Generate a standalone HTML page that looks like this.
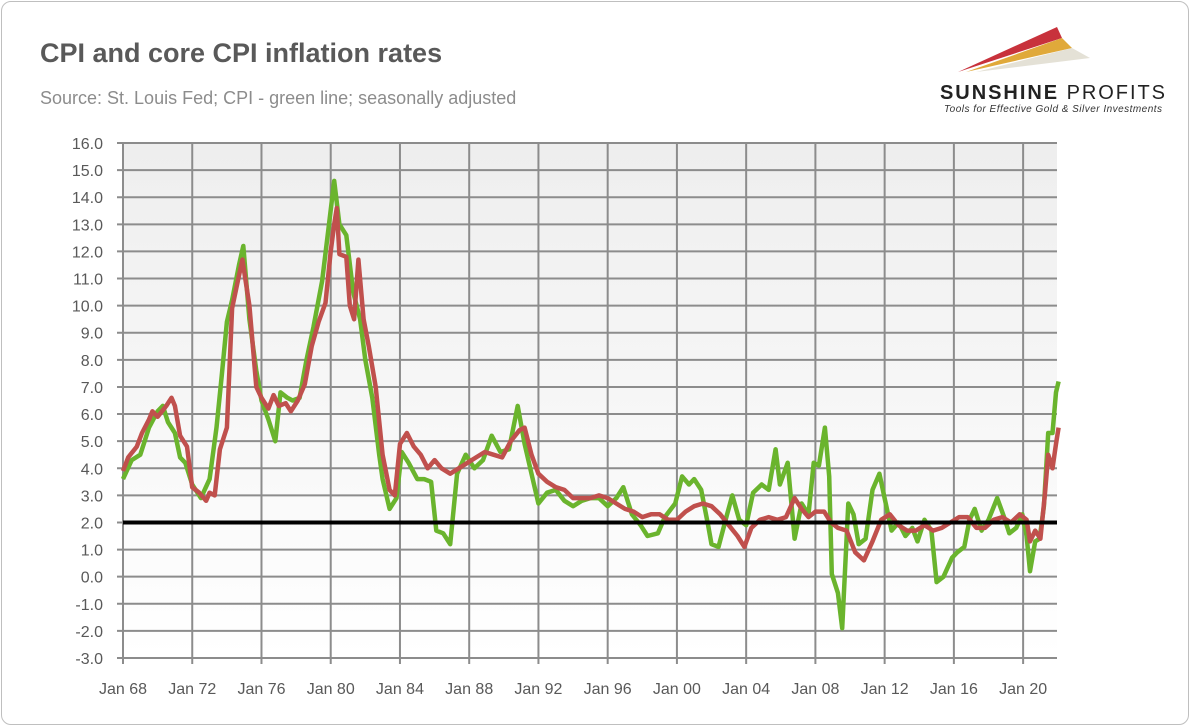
<!DOCTYPE html>
<html><head><meta charset="utf-8"><style>
body{margin:0;background:#fff;font-family:"Liberation Sans",sans-serif;}
#card{position:absolute;left:1px;top:1px;width:1186px;height:722px;border:1px solid #bfbfbf;border-radius:10px;}
</style></head><body>
<div id="card"></div>
<svg id="chart" width="1190" height="726" style="position:absolute;left:0;top:0">
<defs><linearGradient id="bg" x1="0" y1="0" x2="0" y2="1"><stop offset="0" stop-color="#eeeeee"/><stop offset="1" stop-color="#ffffff"/></linearGradient></defs>
<text x="40" y="62" font-size="27" font-weight="bold" fill="#595959">CPI and core CPI inflation rates</text>
<text x="40" y="104" font-size="18" fill="#8c8c8c">Source: St. Louis Fed; CPI - green line; seasonally adjusted</text>
<g>
<polygon points="958,72 1057,27 1062,38" fill="#c8323c"/>
<polygon points="966,72 1062,38 1072,48" fill="#e0a93a"/>
<polygon points="976,72 1072,48 1090,58" fill="#d8d4c4" opacity="0.7"/>
<text x="940" y="99" font-size="20" font-weight="bold" fill="#222" textLength="225">SUNSHINE <tspan font-weight="normal">PROFITS</tspan></text>
<text x="944" y="112" font-size="10" font-style="italic" fill="#333" textLength="218">Tools for Effective Gold &amp; Silver Investments</text>
</g>
<g id="plot"></g>
</svg>
<script>
const cpiYears=[1968.0,1968.5,1969.0,1969.5,1970.0,1970.3,1970.6,1971.0,1971.3,1971.6,1972.0,1972.5,1973.0,1973.4,1973.7,1974.0,1974.3,1974.7,1974.95,1975.3,1975.7,1976.0,1976.4,1976.8,1977.1,1977.5,1977.8,1978.2,1978.6,1979.0,1979.5,1979.9,1980.2,1980.5,1980.9,1981.3,1981.7,1982.0,1982.4,1982.8,1983.0,1983.4,1983.8,1984.1,1984.5,1985.0,1985.4,1985.8,1986.1,1986.5,1986.9,1987.3,1987.8,1988.3,1988.8,1989.3,1989.8,1990.3,1990.8,1991.2,1991.6,1992.0,1992.5,1993.0,1993.5,1994.0,1994.5,1995.0,1995.5,1996.0,1996.5,1996.9,1997.4,1997.9,1998.3,1998.9,1999.3,1999.9,2000.3,2000.7,2001.0,2001.4,2001.8,2002.0,2002.4,2002.9,2003.2,2003.6,2004.0,2004.4,2004.9,2005.3,2005.7,2005.95,2006.4,2006.8,2007.2,2007.6,2007.9,2008.2,2008.55,2008.8,2008.95,2009.3,2009.55,2009.9,2010.2,2010.5,2010.9,2011.3,2011.7,2012.0,2012.4,2012.8,2013.2,2013.6,2013.9,2014.3,2014.7,2015.0,2015.4,2015.9,2016.2,2016.6,2016.9,2017.2,2017.6,2018.0,2018.5,2018.9,2019.2,2019.6,2019.95,2020.2,2020.4,2020.7,2020.95,2021.2,2021.35,2021.45,2021.7,2021.9,2022.05];
const cpiValues=[3.6,4.3,4.5,5.5,6.1,6.3,5.7,5.3,4.4,4.2,3.4,2.9,3.6,5.5,7.4,9.4,10.2,11.5,12.2,9.5,7.6,6.5,5.8,5.0,6.8,6.6,6.5,6.6,8.0,9.2,10.9,13.0,14.6,13.0,12.6,10.5,9.5,8.0,6.6,4.5,3.6,2.5,2.9,4.6,4.2,3.6,3.6,3.5,1.7,1.6,1.2,3.8,4.5,4.0,4.3,5.2,4.6,4.7,6.3,4.9,3.8,2.7,3.1,3.2,2.8,2.6,2.8,2.9,2.9,2.6,2.9,3.3,2.3,1.9,1.5,1.6,2.2,2.7,3.7,3.4,3.6,3.2,1.9,1.2,1.1,2.3,3.0,2.1,1.9,3.1,3.4,3.2,4.7,3.4,4.2,1.4,2.7,2.3,4.2,4.1,5.5,3.7,0.1,-0.6,-1.9,2.7,2.3,1.2,1.4,3.2,3.8,2.9,1.7,2.0,1.5,1.8,1.3,2.1,1.7,-0.2,0.0,0.7,0.9,1.1,2.1,2.5,1.7,2.1,2.9,2.2,1.6,1.8,2.3,1.5,0.2,1.3,1.4,2.6,4.2,5.3,5.3,6.8,7.2];
const coreYears=[1968.0,1968.3,1968.8,1969.1,1969.5,1969.7,1970.0,1970.5,1970.8,1971.0,1971.3,1971.7,1972.0,1972.4,1972.8,1973.0,1973.3,1973.6,1974.0,1974.3,1974.6,1974.9,1975.3,1975.7,1976.0,1976.4,1976.7,1977.0,1977.4,1977.7,1978.1,1978.5,1978.9,1979.3,1979.7,1980.0,1980.2,1980.35,1980.5,1980.9,1981.1,1981.35,1981.6,1981.9,1982.2,1982.6,1983.0,1983.4,1983.7,1984.0,1984.4,1984.8,1985.2,1985.6,1986.0,1986.4,1986.9,1987.4,1987.9,1988.4,1988.9,1989.4,1989.9,1990.4,1990.9,1991.2,1991.6,1992.0,1992.5,1993.0,1993.5,1994.0,1994.5,1995.0,1995.5,1996.0,1996.5,1997.0,1997.5,1998.0,1998.5,1999.0,1999.5,2000.0,2000.5,2001.0,2001.5,2002.0,2002.5,2003.0,2003.5,2003.9,2004.3,2004.8,2005.3,2005.8,2006.3,2006.8,2007.2,2007.6,2008.0,2008.5,2008.9,2009.3,2009.8,2010.3,2010.8,2011.3,2011.8,2012.3,2012.8,2013.3,2013.8,2014.3,2014.8,2015.3,2015.8,2016.3,2016.8,2017.3,2017.8,2018.3,2018.8,2019.3,2019.8,2020.2,2020.4,2020.7,2021.0,2021.25,2021.45,2021.7,2021.9,2022.05];
const coreValues=[3.9,4.4,4.8,5.3,5.8,6.1,5.9,6.3,6.6,6.3,5.2,4.8,3.3,3.1,2.8,3.1,3.0,4.7,5.5,9.9,10.8,11.7,10.0,7.0,6.6,6.2,6.7,6.3,6.4,6.1,6.5,7.1,8.5,9.4,10.1,12.0,13.0,13.6,11.9,11.8,10.0,9.5,11.7,9.5,8.5,7.0,4.5,3.2,3.0,4.9,5.3,4.8,4.5,4.0,4.3,4.0,3.8,4.0,4.2,4.4,4.6,4.5,4.4,5.0,5.4,5.5,4.5,3.8,3.5,3.3,3.2,2.9,2.9,2.9,3.0,2.9,2.7,2.5,2.4,2.2,2.3,2.3,2.1,2.1,2.4,2.6,2.7,2.6,2.3,1.9,1.5,1.1,1.8,2.1,2.2,2.1,2.2,2.9,2.5,2.2,2.4,2.4,2.0,1.8,1.7,0.9,0.6,1.3,2.1,2.3,1.9,1.7,1.7,1.9,1.7,1.8,2.0,2.2,2.2,1.8,1.8,2.1,2.2,2.0,2.3,2.1,1.3,1.7,1.4,3.0,4.5,4.0,4.9,5.5];
const yTicks=[16,15,14,13,12,11,10,9,8,7,6,5,4,3,2,1,0,-1,-2,-3];
const xTickYears=[1968,1972,1976,1980,1984,1988,1992,1996,2000,2004,2008,2012,2016,2020];
const xTickLabels=["Jan 68","Jan 72","Jan 76","Jan 80","Jan 84","Jan 88","Jan 92","Jan 96","Jan 00","Jan 04","Jan 08","Jan 12","Jan 16","Jan 20"];
const targetRate=[2];

const L=123,R=1057,T=143,B=658,ymin=-3,ymax=16;
const xs=y=>L+(y-1968)*17.31;
const ys=v=>T+(ymax-v)*(B-T)/(ymax-ymin);
const NS="http://www.w3.org/2000/svg";
const g=document.getElementById('plot');
function mk(t,a){const e=document.createElementNS(NS,t);for(const k in a)e.setAttribute(k,a[k]);g.appendChild(e);return e;}
const bg=mk('rect',{x:L,y:T,width:R-L,height:B-T,fill:'url(#bg)'});


yTicks.forEach(v=>{
  const ln=mk('line',{x1:L-6,x2:R,y1:ys(v),y2:ys(v),stroke:'#8c8c8c','stroke-width':2});
  
  
  const t=mk('text',{x:103,y:ys(v)+6,'text-anchor':'end','font-size':16,fill:'#595959'});
  t.textContent=v.toFixed(1);
  
  
});
xTickYears.forEach((yr,i)=>{
  const ln=mk('line',{x1:xs(yr),x2:xs(yr),y1:T,y2:B+6,stroke:'#8c8c8c','stroke-width':2});
  
  
  const t=mk('text',{x:xs(yr),y:694,'text-anchor':'middle','font-size':16,fill:'#595959'});
  t.textContent=xTickLabels[i];
  
  
});
function series(xa,va,color,name){
  const d=xa.map((x,i)=>(i?'L':'M')+xs(x).toFixed(1)+','+ys(va[i]).toFixed(1)).join('');
  const p=mk('path',{d:d,fill:'none',stroke:color,'stroke-width':4.5,'stroke-linejoin':'round'});
  
  
}
series(cpiYears,cpiValues,'#6ab42d','cpi-line');
series(coreYears,coreValues,'#c0504d','core-cpi-line');
const tl=mk('line',{x1:L,x2:R,y1:ys(targetRate[0]),y2:ys(targetRate[0]),stroke:'#000','stroke-width':4});


</script>
</body></html>
